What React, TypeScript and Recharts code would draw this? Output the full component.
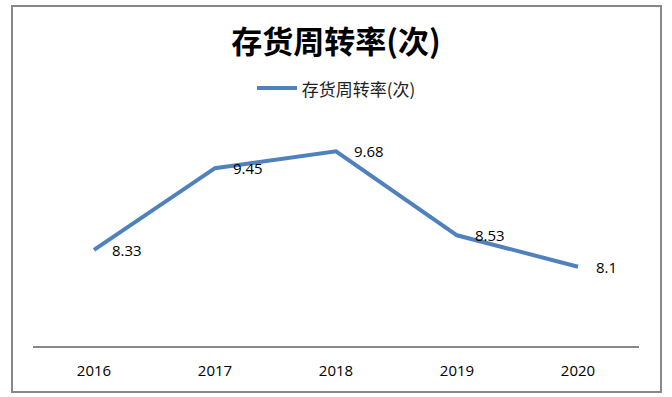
import React from 'react';
import { LineChart, Line, XAxis, YAxis, LabelList } from 'recharts';

const years = ['2016', '2017', '2018', '2019', '2020'];
const turnover = [8.33, 9.45, 9.68, 8.53, 8.1];
const seriesName = '存货周转率(次)';

const data = years.map((year, i) => ({ year, value: turnover[i] }));

const LINE_COLOR = '#4F81BD';
const CJK_FONT = "'Noto Sans CJK SC', sans-serif";
const NUM_FONT = "'Open Sans', sans-serif";

const renderValueLabel = (props: any) => {
  const { x, y, value } = props;
  return (
    <text
      x={x + 18}
      y={y + 2}
      dominantBaseline="middle"
      textAnchor="start"
      fontFamily={NUM_FONT}
      fontSize={15}
      fill="#000"
    >
      {value}
    </text>
  );
};

export default function App() {
  return (
    <div style={{ position: 'fixed', left: 0, top: 0, width: 672, height: 397, background: '#fff' }}>
      {/* outer frame */}
      <div
        style={{
          position: 'absolute',
          left: 11,
          top: 5,
          width: 647,
          height: 384,
          border: '2px solid #888',
        }}
      />
      {/* title */}
      <div
        style={{
          position: 'absolute',
          left: 0,
          top: 18,
          width: 672,
          textAlign: 'center',
          fontFamily: CJK_FONT,
          fontWeight: 'bold',
          fontSize: 31,
          lineHeight: '44px',
          color: '#000',
        }}
      >
        {seriesName}
      </div>
      {/* legend */}
      <div
        style={{
          position: 'absolute',
          left: 0,
          top: 76,
          width: 672,
          height: 24,
          display: 'flex',
          justifyContent: 'center',
          alignItems: 'center',
        }}
      >
        <svg width={40} height={6} style={{ marginRight: 5 }}>
          <line x1={0} y1={3} x2={40} y2={3} stroke={LINE_COLOR} strokeWidth={4} />
        </svg>
        <span style={{ fontFamily: CJK_FONT, fontSize: 17, color: '#222' }}>{seriesName}</span>
      </div>
      <div style={{ position: 'absolute', left: 0, top: 0 }}>
        <LineChart width={672} height={397} data={data} margin={{ top: 128, right: 33, left: 33, bottom: 20 }}>
          <XAxis
            dataKey="year"
            height={30}
            padding={{ left: 61, right: 61 }}
            axisLine={{ stroke: '#888', strokeWidth: 2 }}
            tickLine={false}
            tick={{ fill: '#000', fontSize: 15, fontFamily: NUM_FONT }}
            tickMargin={12}
          />
          <YAxis hide domain={[7, 10]} />
          <Line
            type="linear"
            dataKey="value"
            name={seriesName}
            stroke={LINE_COLOR}
            strokeWidth={4}
            dot={false}
            isAnimationActive={false}
          >
            <LabelList dataKey="value" content={renderValueLabel} />
          </Line>
        </LineChart>
      </div>
    </div>
  );
}
